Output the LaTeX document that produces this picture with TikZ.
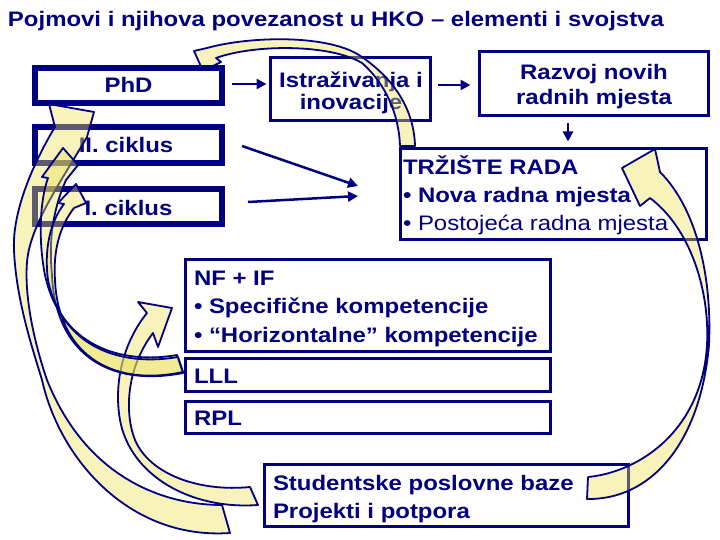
\documentclass[tikz,border=0pt]{standalone}
\usepackage{fontspec}
\setmainfont{Liberation Sans}[FakeStretch=1.14]
\usetikzlibrary{arrows.meta}
\definecolor{navy}{RGB}{0,0,128}
\definecolor{ayellow}{RGB}{235,225,85}
\tikzset{
  boxthin/.style={draw=navy,line width=3pt,fill=white,inner sep=0pt,outer sep=0pt},
  boxthick/.style={boxthin,line width=6pt},
  txt/.style={text=navy,inner sep=0pt,outer sep=0pt,font=\fontsize{21}{22}\selectfont\bfseries},
  txtr/.style={text=navy,inner sep=0pt,outer sep=0pt,font=\fontsize{21}{22}\selectfont},
  conn/.style={draw=navy,line width=2.5pt,-{Triangle[length=10pt,width=10pt]}},
  curved/.style={draw=navy,line width=1.8pt,fill=ayellow,fill opacity=0.4,line join=round}
}
\begin{document}
\begin{tikzpicture}[x=1pt,y=-1pt]
\useasboundingbox (0,0) rectangle (720,540);
\fill[white] (0,0) rectangle (720,540);

% title
\node[txt,anchor=base west] (title) at (8,27) {Pojmovi i njihova povezanost u HKO – elementi i svojstva};

% boxes (under the arrows)
\node[boxthick,minimum width=187pt,minimum height=36pt] (ii) at (128.5,145) {};
\node[boxthick,minimum width=187pt,minimum height=35pt] (i) at (128.5,206.5) {};
\node[boxthin,minimum width=160pt,minimum height=63pt] (istr) at (350.5,89) {};
\node[boxthin,minimum width=229pt,minimum height=64pt] (razvoj) at (594,83.5) {};
\node[boxthin,minimum width=306pt,minimum height=91pt] (trziste) at (553.5,194) {};
\node[boxthin,minimum width=365pt,minimum height=92pt] (nf) at (368,305.5) {};
\node[boxthin,minimum width=365pt,minimum height=33pt] (lll) at (368,375) {};
\node[boxthin,minimum width=365pt,minimum height=32pt] (rpl) at (368,417.5) {};
\node[boxthin,minimum width=364pt,minimum height=62pt] (stud) at (446.5,495.5) {};

% texts
\node[txt,anchor=base] (tii) at (126,153) {II. ciklus};
\node[txt,anchor=base] (ti) at (128.5,215) {I. ciklus};
\node[txt,anchor=base] (tistra) at (351,88) {Istraživanja i};
\node[txt,anchor=base] (tistrb) at (351,110) {inovacije};
\node[txt,anchor=base] (trazva) at (594,80) {Razvoj novih};
\node[txt,anchor=base] (trazvb) at (594,105) {radnih mjesta};
\node[txt,anchor=base west] (ttra) at (403,175) {TRŽIŠTE RADA};
\node[txt,anchor=base west] (ttrb) at (403,203) {• Nova radna mjesta};
\node[txtr,anchor=base west] (ttrc) at (403,230) {• Postojeća radna mjesta};
\node[txt,anchor=base west] (tnfa) at (194,285) {NF + IF};
\node[txt,anchor=base west] (tnfb) at (194,313) {• Specifične kompetencije};
\node[txt,anchor=base west] (tnfc) at (194,342) {• “Horizontalne” kompetencije};
\node[txt,anchor=base west] (tlll) at (194,383) {LLL};
\node[txt,anchor=base west] (trpl) at (194,425) {RPL};
\node[txt,anchor=base west] (tstuda) at (273,490) {Studentske poslovne baze};
\node[txt,anchor=base west] (tstudb) at (273,518) {Projekti i potpora};

% PhD box position (box drawn later on top)
\coordinate (phdc) at (128.5,85.5);
\coordinate (phdout) at (232,84);

% connectors
\coordinate (p1) at (358,186);
\coordinate (p2) at (358,196);
\draw[conn] (phdout) -- ([xshift=-4pt,yshift=5pt]istr.west);
\draw[conn] ([xshift=7.5pt,yshift=4pt]istr.east) -- ([xshift=-9pt,yshift=-1.5pt]razvoj.west);
\draw[conn] ([xshift=-26pt,yshift=-8pt]razvoj.south) -- ([xshift=14.5pt,yshift=7pt]trziste.north);
\draw[conn] ([xshift=20pt,yshift=-1pt]ii.east) -- (p1);
\draw[conn] ([xshift=26pt,yshift=4.5pt]i.east) -- (p2);

% curved block arrows
% top: labour market -> PhD
\draw[curved] (400,146) .. controls (399,115) and (386,84) .. (362,63)
  .. controls (330,44) and (255,44) .. (216,58) -- (221,62) -- (203,71) -- (194,51) -- (207,48)
  .. controls (250,36) and (330,34) .. (362,57) .. controls (395,80) and (414,110) .. (415,146) -- cycle;
% right: student bases -> labour market
\draw[curved] (588,477) .. controls (640,472) and (702,430) .. (707,345)
  .. controls (710,290) and (690,228) .. (650,198) -- (640,206) -- (622,168) -- (655,149) -- (660,172)
  .. controls (698,210) and (712,280) .. (709,345) .. controls (700,445) and (650,500) .. (587,499) -- cycle;
% student bases -> NF+IF
\draw[curved] (250,487) .. controls (200,492) and (150,475) .. (135,440)
  .. controls (125,415) and (125,370) .. (153,333) -- (158,347) -- (172,308) -- (138,302) -- (147,313)
  .. controls (125,340) and (113,380) .. (120,420) .. controls (130,475) and (190,510) .. (258,505) -- cycle;
% big: student bases -> PhD
\draw[curved] (222,505) .. controls (160,505) and (85,475) .. (47,380)
  .. controls (36,348) and (24,300) .. (27,262) .. controls (30,225) and (62,180) .. (87,137)
  -- (94,112) -- (49,104) -- (55,127)
  .. controls (35,160) and (12,210) .. (14,250) .. controls (16,300) and (33,350) .. (42,380)
  .. controls (60,460) and (130,540) .. (230,533) -- cycle;
% LLL -> II. ciklus
\draw[curved] (177,355) .. controls (120,365) and (60,345) .. (45,275)
  .. controls (38,240) and (40,200) .. (48,178) -- (42,177) -- (63,148) -- (78,165) -- (66,180)
  .. controls (55,205) and (48,235) .. (52,275) .. controls (55,350) and (105,388) .. (183,373) -- cycle;
% LLL -> I. ciklus
\draw[curved] (178,357) .. controls (120,367) and (62,347) .. (48,280)
  .. controls (44,250) and (50,222) .. (64,204) -- (58,203) -- (76,184) -- (86,203) -- (74,208)
  .. controls (60,226) and (53,250) .. (55,280) .. controls (58,350) and (107,388) .. (183,372) -- cycle;

% PhD box on top
\node[boxthick,minimum width=187pt,minimum height=35pt] (phd) at (phdc) {};
\node[txt,anchor=base] (tphd) at (128.5,93) {PhD};
\end{tikzpicture}
\end{document}
